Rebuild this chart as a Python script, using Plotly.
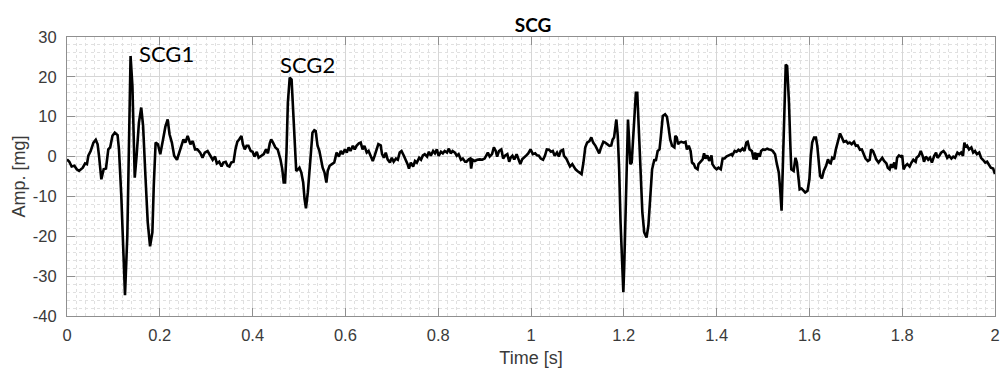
import plotly.graph_objects as go

# Seismocardiogram trace: time [s] and amplitude [mg]
time_s = [
    0.000, 0.005, 0.010, 0.016, 0.021, 0.026, 0.034, 0.039, 0.043, 0.046,
    0.051, 0.057, 0.062, 0.066, 0.069, 0.074, 0.079, 0.084, 0.089, 0.093,
    0.098, 0.103, 0.109, 0.112, 0.117, 0.121, 0.125, 0.130, 0.134, 0.137,
    0.141, 0.146, 0.150, 0.155, 0.160, 0.164, 0.169, 0.174, 0.179, 0.184,
    0.187, 0.191, 0.196, 0.201, 0.207, 0.212, 0.217, 0.221, 0.226, 0.231,
    0.237, 0.243, 0.248, 0.251, 0.255, 0.260, 0.266, 0.271, 0.276,
    0.281, 0.287, 0.292, 0.297, 0.303, 0.309, 0.314, 0.319, 0.323, 0.328,
    0.333, 0.337, 0.342, 0.346, 0.350, 0.354, 0.359, 0.363, 0.367, 0.371,
    0.376, 0.379, 0.383, 0.387, 0.391, 0.396, 0.400, 0.404, 0.409, 0.413,
    0.417, 0.421, 0.424, 0.429, 0.433, 0.437, 0.440, 0.444, 0.449, 0.454,
    0.460, 0.464, 0.467, 0.470, 0.473, 0.476, 0.480, 0.484, 0.487, 0.491,
    0.494, 0.498, 0.501, 0.505, 0.509, 0.512, 0.515, 0.519, 0.522, 0.526,
    0.529, 0.533, 0.536, 0.540, 0.544, 0.548, 0.551, 0.555, 0.559, 0.562,
    0.566, 0.571,
    0.576, 0.581, 0.586, 0.590, 0.594, 0.599, 0.603, 0.607, 0.611, 0.616,
    0.620, 0.624, 0.629, 0.633, 0.637, 0.641, 0.646, 0.650, 0.654, 0.659,
    0.663, 0.667, 0.671, 0.676, 0.679, 0.683, 0.687, 0.691, 0.696, 0.700,
    0.704, 0.709, 0.713, 0.717, 0.721, 0.726, 0.730, 0.734, 0.737, 0.741,
    0.746, 0.750, 0.754, 0.759, 0.763, 0.767, 0.771, 0.776, 0.780, 0.784,
    0.789, 0.793, 0.797, 0.801, 0.806, 0.810, 0.814, 0.819, 0.823, 0.827,
    0.831, 0.836, 0.840, 0.844, 0.849, 0.853, 0.858,
    0.861, 0.866, 0.869, 0.871, 0.874, 0.879, 0.884, 0.890, 0.895, 0.900,
    0.904, 0.907, 0.911, 0.916, 0.920, 0.924, 0.927, 0.931, 0.936, 0.940,
    0.944, 0.949, 0.953, 0.956, 0.960, 0.964, 0.969, 0.973, 0.977, 0.981,
    0.986, 0.990, 0.994, 0.999, 1.004, 1.009, 1.013, 1.017, 1.021, 1.026,
    1.030, 1.034, 1.039, 1.043, 1.047, 1.051, 1.056, 1.060, 1.064, 1.069,
    1.071, 1.076, 1.080, 1.084, 1.089, 1.093, 1.096, 1.100, 1.105, 1.109,
    1.113, 1.117, 1.121, 1.126, 1.130, 1.134, 1.139, 1.145,
    1.147, 1.151, 1.156, 1.160, 1.164, 1.169, 1.173, 1.176, 1.179, 1.182,
    1.184, 1.187, 1.190, 1.193, 1.196, 1.199, 1.201, 1.204, 1.207, 1.209,
    1.211, 1.214, 1.217, 1.220, 1.223, 1.226, 1.229, 1.231, 1.234, 1.237,
    1.240, 1.244, 1.249, 1.253, 1.257, 1.261, 1.266, 1.269, 1.273, 1.277,
    1.280, 1.284, 1.289, 1.293, 1.296, 1.300, 1.304, 1.309, 1.311, 1.314,
    1.317, 1.320, 1.324, 1.329, 1.333, 1.336, 1.340, 1.344, 1.347, 1.351,
    1.354, 1.359, 1.361, 1.366, 1.370, 1.373, 1.376, 1.380, 1.384, 1.389,
    1.391, 1.396, 1.400, 1.404, 1.409, 1.413, 1.417, 1.421, 1.426, 1.432,
    1.434, 1.439, 1.443, 1.447, 1.451, 1.456, 1.460, 1.464, 1.467, 1.471,
    1.476, 1.480, 1.483, 1.486, 1.489, 1.493, 1.496, 1.500, 1.504, 1.509,
    1.513, 1.517, 1.521, 1.526, 1.530, 1.534, 1.537, 1.540, 1.543, 1.546,
    1.549, 1.552, 1.556, 1.559, 1.561, 1.566, 1.570, 1.573, 1.576, 1.579,
    1.583, 1.587, 1.591, 1.596, 1.600, 1.603, 1.606, 1.610, 1.614, 1.617,
    1.620, 1.623, 1.627, 1.631, 1.636, 1.640, 1.643, 1.646, 1.649, 1.653,
    1.657, 1.661, 1.666, 1.670, 1.674, 1.679, 1.683, 1.687, 1.691, 1.696,
    1.700, 1.704, 1.709, 1.713, 1.719,
    1.721, 1.726, 1.730, 1.733, 1.737, 1.741, 1.744, 1.749, 1.753, 1.757,
    1.761, 1.766, 1.769, 1.773, 1.776, 1.779, 1.783, 1.786, 1.789, 1.793,
    1.797, 1.800, 1.803, 1.807, 1.811, 1.816, 1.820, 1.824, 1.829, 1.831,
    1.836, 1.840, 1.844, 1.847, 1.851, 1.856, 1.860, 1.864, 1.869, 1.873,
    1.876, 1.880, 1.884, 1.889, 1.893, 1.897, 1.901, 1.906, 1.910, 1.914,
    1.919, 1.923, 1.927, 1.931, 1.934, 1.937, 1.940, 1.944, 1.949, 1.953,
    1.957, 1.961, 1.966, 1.970, 1.974, 1.979, 1.983, 1.987, 1.991, 1.996,
    2.000,
]

amp_mg = [
    -0.7, -1.3, -2.5, -2.3, -3.2, -3.6, -2.8, -1.7, -1.9, 0.2,
    1.4, 3.5, 4.2, 3.1, 0.2, -5.7, -3.2, -3.0, 1.8, 2.3,
    5.2, 6.0, 5.4, 1.8, -9.8, -24.0, -34.8, -19.8, 5.2, 25.2,
    17.7, -5.3, 0.2, 8.5, 12.3, 7.7, -4.8, -16.5, -22.5, -19.0,
    -7.3, 3.5, 3.1, 0.6, 4.3, 7.5, 9.3, 5.6, 3.5, 0.2,
    -0.8, 1.4, 2.7, 4.3, 3.5, 5.2, 3.1, 3.9, 1.8,
    1.8, 1.0, -0.3, 1.0, 1.4, 0.2, -0.8, 0.0, -1.7, -1.3,
    -2.5, -1.5, -1.3, -2.3, -2.5, -1.5, -1.3, 1.8, 3.7, 4.3,
    5.2, 3.1, 1.8, 2.7, 2.7, 1.4, 1.2, 0.0, 1.2, -0.3,
    0.0, 0.3, 0.6, 1.8, 0.8, 3.3, 4.3, 3.5, 2.3, 1.8,
    -0.7, -3.2, -6.5, -6.5, 1.0, 13.5, 19.8, 19.3, 12.7, 2.7,
    -3.6, -3.2, -2.8, -4.0, -6.5, -10.7, -13.0, -9.0, -3.2, 1.4,
    6.0, 6.6, 6.4, 2.7, 1.4, -0.7, -2.8, -4.0, -6.5, -3.6,
    -2.3, -1.9,
    -1.5, 1.0, 0.0, 1.4, 0.6, 1.8, 1.0, 2.3, 1.4, 2.7,
    1.8, 2.7, 3.3, 3.5, 1.8, 2.7, 1.0, 1.4, 0.2, -1.1,
    0.2, 1.8, 3.1, 2.8, 0.6, -0.3, 1.0, -0.7, -1.5, -0.3,
    -1.3, -0.5, -0.8, 1.0, 1.4, 0.2, -0.7, -1.9, -3.0, -1.5,
    -2.5, -1.1, -1.5, -0.3, -0.8, 0.3, 0.6, 0.0, 1.2, 0.2,
    1.4, 0.8, 1.8, 0.2, 1.2, 0.8, 1.4, 1.0, 2.0, 0.8,
    1.4, 1.0, 0.2, 0.6, -0.8, -0.5, -1.3,
    -1.3, -0.7, -0.5, -3.0, -0.8, -1.1, -0.8, -0.7, -0.8, -0.5,
    0.2, 1.0, 0.0, 0.6, 2.3, 1.4, 0.0, 1.4, 1.8, -0.5,
    0.2, 0.6, -1.3, -0.3, 0.2, -0.7, 0.6, -0.8, -1.9, -0.7,
    0.0, 0.3, 0.8, 1.8, 0.6, 0.8, 0.3, 0.2, -0.5, -0.8,
    0.2, 1.8, 1.7, 1.2, 1.4, 0.2, 1.0, 0.0, 1.4, 1.7,
    0.2, -0.5, -1.5, -2.5, -1.9, -2.8, -3.2, -3.6, -4.0, -4.4,
    -1.5, 2.3, 3.5, 3.9, 4.8, 3.5, 2.7, 1.0,
    0.8, 2.3, 3.7, 3.5, 3.1, 2.7, 2.8, 4.3, 4.8, 7.3,
    9.3, 5.2, -3.2, -16.5, -28.2, -34.0, -27.3, -13.2, 5.2, 9.3,
    5.2, -1.9, -1.5, 5.2, 11.8, 16.0, 16.0, 11.0, 1.8, -7.3,
    -14.0, -19.0, -20.3, -17.3, -9.8, -3.2, -0.7, -1.1, 1.4, 1.8,
    5.2, 10.2, 10.6, 10.0, 7.7, 4.3, 2.7, 2.3, 5.2, 4.8,
    3.1, 3.5, 3.7, 3.5, 3.7, 1.8, 2.7, 1.4, -1.5, -1.9,
    -2.8, -3.2, -1.9, -1.1, -0.7, 0.8, -0.5, 0.3, -1.1, 0.3,
    -1.9, -2.8, -3.2, -2.8, -3.2, -0.5, -0.5, 0.0, 0.2, 0.6,
    0.3, 1.4, 1.2, 1.7, 1.4, 2.0, 1.4, 3.5, 3.7, 1.8,
    1.4, -0.7, 1.0, -0.8, 0.8, 0.0, 1.4, 1.8, 1.7, 2.0,
    1.8, 1.7, 1.4, 0.6, -1.9, -4.0, -8.2, -13.6, -1.5, 13.5,
    23.1, 22.7, 13.5, 2.7, -3.2, -3.6, -0.3, -1.5, -5.7, -8.2,
    -8.0, -8.6, -9.0, -8.6, -5.7, 0.2, 3.5, 4.8, 4.8, 2.7,
    -1.5, -4.8, -5.5, -3.6, -2.3, -0.7, -1.5, -1.7, -0.3, -0.7,
    1.8, 3.5, 5.8, 4.8, 3.7, 3.9, 3.3, 3.5, 3.1, 3.7,
    2.7, 2.8, 1.7, 1.8, -0.3,
    -0.5, -1.1, -0.8, 1.8, 1.4, 0.3, -0.7, -1.5, -0.8, -0.3,
    -1.1, -1.7, -2.8, -3.2, -1.9, -2.8, -1.5, -3.2, -0.3, 0.3,
    0.0, 0.3, -3.2, -2.3, -1.9, -2.5, -1.5, -0.8, -1.3, -0.3,
    0.2, 1.4, 0.2, -1.3, 0.0, -0.8, -0.3, -1.5, 0.2, 1.0,
    -0.3, 0.2, 1.0, 1.4, 0.8, -0.3, 0.2, -0.5, 0.0, -0.3,
    1.0, 0.6, 1.0, 0.2, 3.5, 2.3, 2.7, 1.8, 2.3, 1.0,
    1.4, 0.6, 1.0, -0.3, -0.8, -1.5, -1.3, -1.9, -2.8, -3.0,
    -4.4,
]

x_ticks = [0, 0.2, 0.4, 0.6, 0.8, 1, 1.2, 1.4, 1.6, 1.8, 2]
x_tick_labels = ["0", "0.2", "0.4", "0.6", "0.8", "1", "1.2", "1.4", "1.6", "1.8", "2"]
y_ticks = [-40, -30, -20, -10, 0, 10, 20, 30]
y_tick_labels = ["-40", "-30", "-20", "-10", "0", "10", "20", "30"]

sans = "Liberation Sans, Arial, sans-serif"
tick_font = dict(family=sans, size=16.5, color="#3a3a3a")
title_font = dict(family=sans, size=18, color="#3a3a3a")
axis_color = "#8f8f8f"

fig = go.Figure()
fig.add_trace(go.Scatter(
    x=time_s, y=amp_mg, mode="lines",
    line=dict(color="black", width=2.6),
    showlegend=False, hoverinfo="skip",
))

common_axis = dict(
    showline=True, linecolor=axis_color, linewidth=1, mirror="ticks",
    ticks="inside", ticklen=8, tickcolor=axis_color, tickwidth=1,
    showgrid=True, gridcolor="#d6d6d6", gridwidth=1,
    zeroline=False, tickfont=tick_font, ticklabeloverflow="allow",
)

fig.update_xaxes(
    range=[0, 2], tickvals=x_ticks, ticktext=x_tick_labels,
    minor=dict(dtick=0.02, showgrid=True, gridcolor="#e0e0e0", griddash="dot", gridwidth=1),
    title=dict(text="Time [s]", font=title_font, standoff=9),
    ticklabelstandoff=4,
    **common_axis,
)
fig.update_yaxes(
    range=[-40, 30], tickvals=y_ticks, ticktext=y_tick_labels,
    minor=dict(dtick=2, showgrid=True, gridcolor="#e0e0e0", griddash="dot", gridwidth=1),
    title=dict(text="Amp. [mg]", font=title_font, standoff=2),
    ticklabelstandoff=6,
    **common_axis,
)

fig.add_annotation(x=0.150, y=25.8, xref="x", yref="y", text="SCG1",
                   showarrow=False, xanchor="left", yanchor="middle",
                   font=dict(family="Lato, sans-serif", size=22, color="black"))
fig.add_annotation(x=0.454, y=23.2, xref="x", yref="y", text="SCG2",
                   showarrow=False, xanchor="left", yanchor="middle",
                   font=dict(family="Lato, sans-serif", size=22, color="black"))

fig.update_layout(
    width=1003, height=368,
    margin=dict(l=67, r=3, t=37, b=51),
    paper_bgcolor="white", plot_bgcolor="white",
    title=dict(text="<b>SCG</b>", x=0.5315, xanchor="center", y=1 - 25 / 368, yanchor="middle",
               font=dict(family="Lato, sans-serif", size=19, color="black")),
)

fig.write_html("out.html")
